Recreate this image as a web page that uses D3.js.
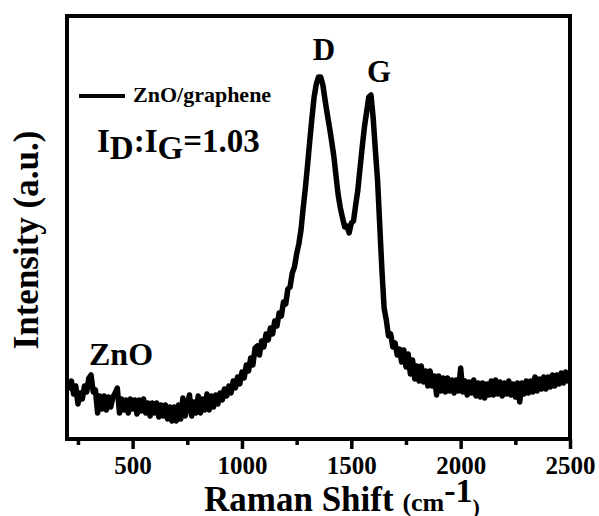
<!DOCTYPE html>
<html>
<head>
<meta charset="utf-8">
<script src="https://cdn.jsdelivr.net/npm/d3@7"></script>
<style>
  html, body { margin: 0; padding: 0; background: #fff; }
  svg text { font-family: "Liberation Serif", "Times New Roman", serif; font-weight: bold; fill: #000; }
</style>
</head>
<body>
<svg id="chart" width="599" height="516"></svg>
<script>
// Raman spectrum of ZnO/graphene, sampled every 10 cm-1 from 200 to 2500
const shiftStart = 200, shiftEnd = 2500, shiftStep = 10;
const intensity = [
  116,102,116,90,106,70,92,80,106,94,
  122,128,94,98,52,86,60,86,58,84,
  64,84,92,102,52,80,58,78,52,80,
  60,78,50,78,56,80,52,72,46,72,
  52,72,44,68,46,68,40,64,36,64,
  36,68,40,82,46,70,88,46,74,52,
  86,52,80,58,90,58,86,64,88,70,
  92,78,100,86,106,92,116,102,124,110,
  134,122,148,136,162,148,182,186,168,196,
  184,210,198,222,210,236,226,252,246,274,
  270,300,304,332,344,370,390,418,462,502,
  548,596,642,684,710,724,724,708,678,650,
  624,596,566,526,488,462,442,424,426,412,
  432,436,468,498,542,584,624,654,684,688,
  642,578,518,428,338,262,238,206,210,184,
  192,168,180,154,178,144,170,130,158,120,
  146,116,146,114,136,106,136,106,126,88,
  126,96,122,94,122,96,118,92,118,96,
  142,94,116,88,114,92,118,86,112,84,
  112,82,110,88,116,88,118,90,114,86,
  112,90,116,88,110,84,112,74,112,90,
  116,92,116,94,124,96,120,100,124,100,
  124,104,128,106,128,110,132,112,134,116,
  124
];
const shift = d3.range(shiftStart, shiftEnd + 1, shiftStep);

const majorTicks = [500, 1000, 1500, 2000, 2500];
const minorTicks = [250, 750, 1250, 1750, 2250];

const seriesName = "ZnO/graphene";
const bandLabels = ["D", "G", "ZnO"];

const svg = d3.select("#chart");
const plot = { left: 67, right: 570, top: 16, bottom: 439 };

const x = d3.scaleLinear().domain([shiftStart, shiftEnd]).range([plot.left, plot.right]);
const y = d3.scaleLinear().domain([0, 846]).range([plot.bottom, plot.top]);

svg.append("defs").append("clipPath").attr("id", "clip")
  .append("rect")
  .attr("x", plot.left).attr("y", plot.top)
  .attr("width", plot.right - plot.left).attr("height", plot.bottom - plot.top);

// spectrum trace
const line = d3.line()
  .x((d, i) => x(shift[i]))
  .y(d => y(d));

svg.append("path")
  .datum(intensity)
  .attr("clip-path", "url(#clip)")
  .attr("fill", "none")
  .attr("stroke", "#000")
  .attr("stroke-width", 5.5)
  .attr("stroke-linejoin", "round")
  .attr("d", line);

// bottom axis: major ticks with labels, minor ticks without
const xAxis = svg.append("g")
  .attr("transform", `translate(0,${plot.bottom})`)
  .call(d3.axisBottom(x).tickValues(majorTicks).tickSize(10).tickPadding(7).tickFormat(d3.format("d")));
xAxis.select(".domain").remove();
xAxis.selectAll(".tick line").attr("stroke", "#000").attr("stroke-width", 3.5);
xAxis.selectAll(".tick text")
  .style("font-size", "25px")
  .style("font-family", "'Liberation Serif', 'Times New Roman', serif")
  .style("font-weight", "bold")
  .attr("fill", "#000");

const xMinor = svg.append("g")
  .attr("transform", `translate(0,${plot.bottom})`)
  .call(d3.axisBottom(x).tickValues(minorTicks).tickSize(6).tickFormat(""));
xMinor.select(".domain").remove();
xMinor.selectAll(".tick line").attr("stroke", "#000").attr("stroke-width", 3.5);

// frame
svg.append("rect")
  .attr("x", plot.left).attr("y", plot.top)
  .attr("width", plot.right - plot.left).attr("height", plot.bottom - plot.top)
  .attr("fill", "none").attr("stroke", "#000").attr("stroke-width", 4);

// axis titles
const xTitle = svg.append("text").attr("x", 204).attr("y", 511);
xTitle.append("tspan").style("font-size", "35px").text("Raman Shift ");
xTitle.append("tspan").style("font-size", "26px").text("(cm");
xTitle.append("tspan").style("font-size", "34px").attr("dy", -9).text("-1");
xTitle.append("tspan").style("font-size", "22px").attr("dy", 12).text(")");

svg.append("text")
  .attr("transform", "translate(38,240) rotate(-90)")
  .attr("text-anchor", "middle")
  .style("font-size", "35px")
  .text("Intensity (a.u.)");

// legend
svg.append("line")
  .attr("x1", 79).attr("x2", 125).attr("y1", 96).attr("y2", 96)
  .attr("stroke", "#000").attr("stroke-width", 4);
svg.append("text").attr("x", 133).attr("y", 101.5)
  .style("font-size", "22px").text(seriesName);

// intensity ratio annotation
const ratio = svg.append("text").attr("x", 97).attr("y", 152).style("font-size", "33px");
ratio.append("tspan").text("I");
ratio.append("tspan").attr("dy", 7).text("D");
ratio.append("tspan").attr("dy", -7).text(":I");
ratio.append("tspan").attr("dy", 7).text("G");
ratio.append("tspan").attr("dy", -7).text("=1.03");

// band labels
svg.append("text").attr("x", 324).attr("y", 60).attr("text-anchor", "middle")
  .style("font-size", "31px").text(bandLabels[0]);
svg.append("text").attr("x", 379).attr("y", 81.5).attr("text-anchor", "middle")
  .style("font-size", "31px").text(bandLabels[1]);
svg.append("text").attr("x", 89).attr("y", 365)
  .style("font-size", "32px").text(bandLabels[2]);
</script>
</body>
</html>
